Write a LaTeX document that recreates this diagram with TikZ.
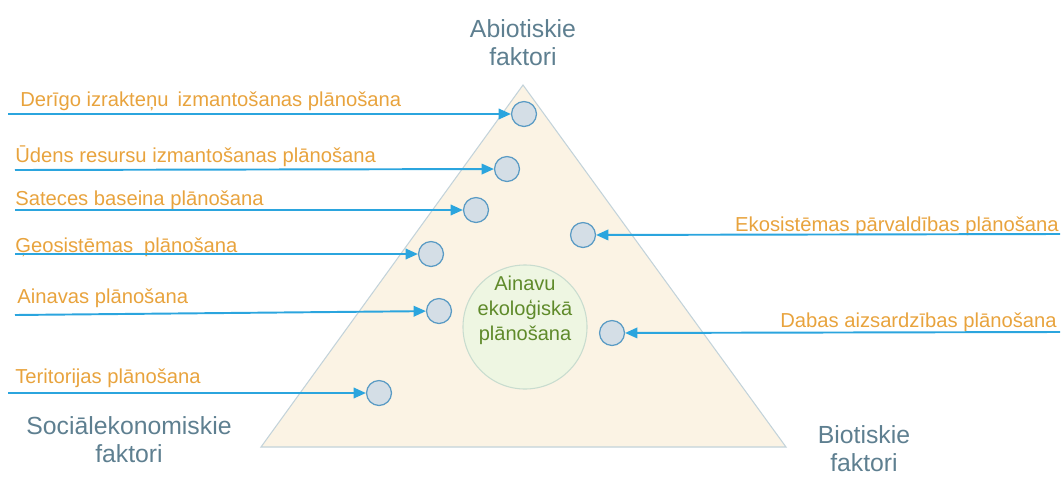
\documentclass[tikz,border=0pt]{standalone}
\usepackage{fontspec}
\setmainfont{Liberation Sans}
\usetikzlibrary{arrows.meta}
\definecolor{lblorange}{HTML}{E8A33D}
\definecolor{arrowblue}{HTML}{2BA5DE}
\definecolor{dotfill}{HTML}{D4DEE6}
\definecolor{dotdraw}{HTML}{5A9BC4}
\definecolor{trifill}{HTML}{FBF3E4}
\definecolor{tridraw}{HTML}{C3D3DA}
\definecolor{cenfill}{HTML}{EEF6E2}
\definecolor{cendraw}{HTML}{C8DCCF}
\definecolor{centext}{HTML}{5F8A2A}
\definecolor{cornertext}{HTML}{5E7F90}
\tikzset{
  dot/.style={circle,draw=dotdraw,fill=dotfill,line width=0.7pt,minimum size=14.2pt,inner sep=0pt},
  planlabel/.style={text=lblorange,inner sep=0pt,font=\fontsize{11.5pt}{13pt}\selectfont},
  corner/.style={text=cornertext,inner sep=0pt,align=center,font=\fontsize{14.1pt}{15.9pt}\selectfont},
  feed/.style={draw=arrowblue,line width=1.1pt,-{Triangle[length=7pt,width=6pt]}},
}
\begin{document}
\begin{tikzpicture}[x=0.02cm,y=-0.02cm]
\useasboundingbox (0,0) rectangle (1062,477);
% triangle
\draw[fill=trifill,draw=tridraw,line width=0.6pt] (523,85) -- (786,447) -- (261,447) -- cycle;
% centre
\node[circle,fill=cenfill,draw=cendraw,line width=0.6pt,minimum size=70.6pt,inner sep=0pt] (core) at (525,327) {};
\node[text=centext,inner sep=0pt,align=center,font=\fontsize{11.4pt}{14.2pt}\selectfont] (coretext) at (525,310) {Ainavu\\ekoloģiskā\\plānošana};
% corner labels
\node[corner] (abio) at (523,42.5) {Abiotiskie\\faktori};
\node[corner] (soc) at (129,440) {Sociālekonomiskie\\faktori};
\node[corner] (bio) at (864,449) {Biotiskie\\faktori};
% dots
\node[dot] (c1) at (524,114) {};
\node[dot] (c2) at (507,169) {};
\node[dot] (c3) at (476,210) {};
\node[dot] (c4) at (431,254) {};
\node[dot] (c5) at (439,311) {};
\node[dot] (c6) at (379,393) {};
\node[dot] (c7) at (583,235) {};
\node[dot] (c8) at (612,333) {};
% labels
\node[planlabel,anchor=base west] (l1) at (20,106) {Derīgo izrakteņu\hspace{2pt} izmantošanas plānošana};
\node[planlabel,anchor=base west] (l2) at (15,162) {Ūdens resursu izmantošanas plānošana};
\node[planlabel,anchor=base west] (l3) at (15,205) {Sateces baseina plānošana};
\node[planlabel,anchor=base west] (l4) at (15,252) {Ģeosistēmas\hspace{3pt} plānošana};
\node[planlabel,anchor=base west] (l5) at (17,303) {Ainavas plānošana};
\node[planlabel,anchor=base west] (l6) at (15,383) {Teritorijas plānošana};
\node[planlabel,anchor=base east] (l7) at (1059,231) {Ekosistēmas pārvaldības plānošana};
\node[planlabel,anchor=base east] (l8) at (1057,327) {Dabas aizsardzības plānošana};
% arrow starts
\coordinate (s1) at (8,114);
\coordinate (s2) at (15,170);
\coordinate (s3) at (15,210);
\coordinate (s4) at (15,254);
\coordinate (s5) at (15,315);
\coordinate (s6) at (8,393);
\coordinate (s7) at (1060,234);
\coordinate (s8) at (1060,332);
\draw[feed] (s1) -- (c1);
\draw[feed] (s2) -- (c2);
\draw[feed] (s3) -- (c3);
\draw[feed] (s4) -- (c4);
\draw[feed] (s5) -- (c5);
\draw[feed] (s6) -- (c6);
\draw[feed] (s7) -- (c7);
\draw[feed] (s8) -- (c8);
\end{tikzpicture}
\end{document}
